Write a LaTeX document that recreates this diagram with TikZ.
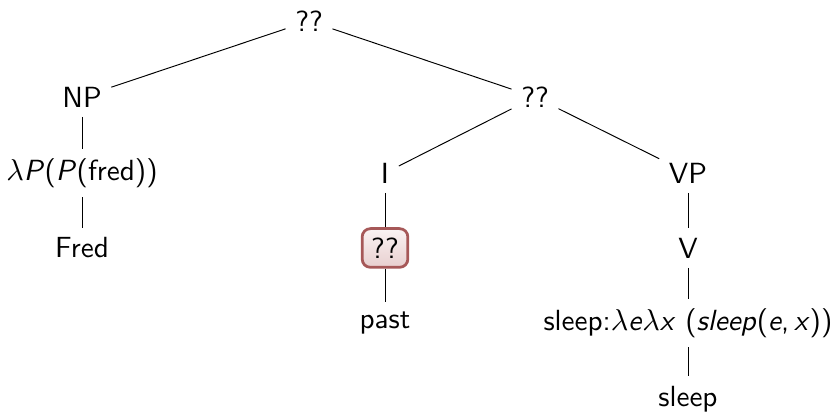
\documentclass[tikz,border=0pt]{standalone}
\usepackage{amsmath,amssymb}
\usepackage{xcolor}
\usepackage{tikz}
\usetikzlibrary{shapes,calc}

\definecolor{holered}{RGB}{166,88,88}
\definecolor{holetop}{RGB}{250,243,243}
\definecolor{holebot}{RGB}{232,207,207}

\begin{document}
\begin{tikzpicture}[
    font=\fontsize{10.6}{12.7}\selectfont\sffamily,
    hole/.style={draw=holered, line width=1pt, rounded corners=3pt,
                 top color=holetop, bottom color=holebot, inner sep=3.3pt},
    branch/.style={black, line width=0.35pt}
]
\useasboundingbox (0,0) rectangle (10.645,-5.265);

%% ROOT
\node (root) at (3.949,-0.268) {??};

%% LEVEL 1
\node (np) at (1.048,-1.240) {NP};
\node (ibar) at (6.837,-1.240) {??};

%% LEVEL 2
\node (npsem) at (1.048,-2.211) {$\lambda$\textit{P}(\textit{P}(fred))};
\node (infl) at (4.920,-2.211) {I};
\node (vp) at (8.792,-2.211) {VP};

%% LEVEL 3
\node (fred) at (1.048,-3.169) {Fred};
\node[hole] (tense) at (4.920,-3.169) {??};
\node (verb) at (8.792,-3.169) {V};

%% LEVEL 4
\node (past) at (4.920,-4.128) {past};
\node (vsem) at (8.792,-4.128)
    {sleep:$\lambda$\textit{e}$\lambda$\textit{x} (\textit{sleep}(\textit{e},\,\textit{x}))};

%% LEVEL 5
\node (sleep) at (8.792,-5.099) {sleep};

%% BRANCHES
\draw[branch] (root) -- (np);
\draw[branch] (root) -- (ibar);
\draw[branch] (np) -- (npsem);
\draw[branch] (npsem) -- (fred);
\draw[branch] (ibar) -- (infl);
\draw[branch] (ibar) -- (vp);
\draw[branch] (infl) -- (tense);
\draw[branch] (tense) -- (past);
\draw[branch] (vp) -- (verb);
\draw[branch] (verb) -- (vsem);
\draw[branch] (vsem) -- (sleep);

\end{tikzpicture}
\end{document}
